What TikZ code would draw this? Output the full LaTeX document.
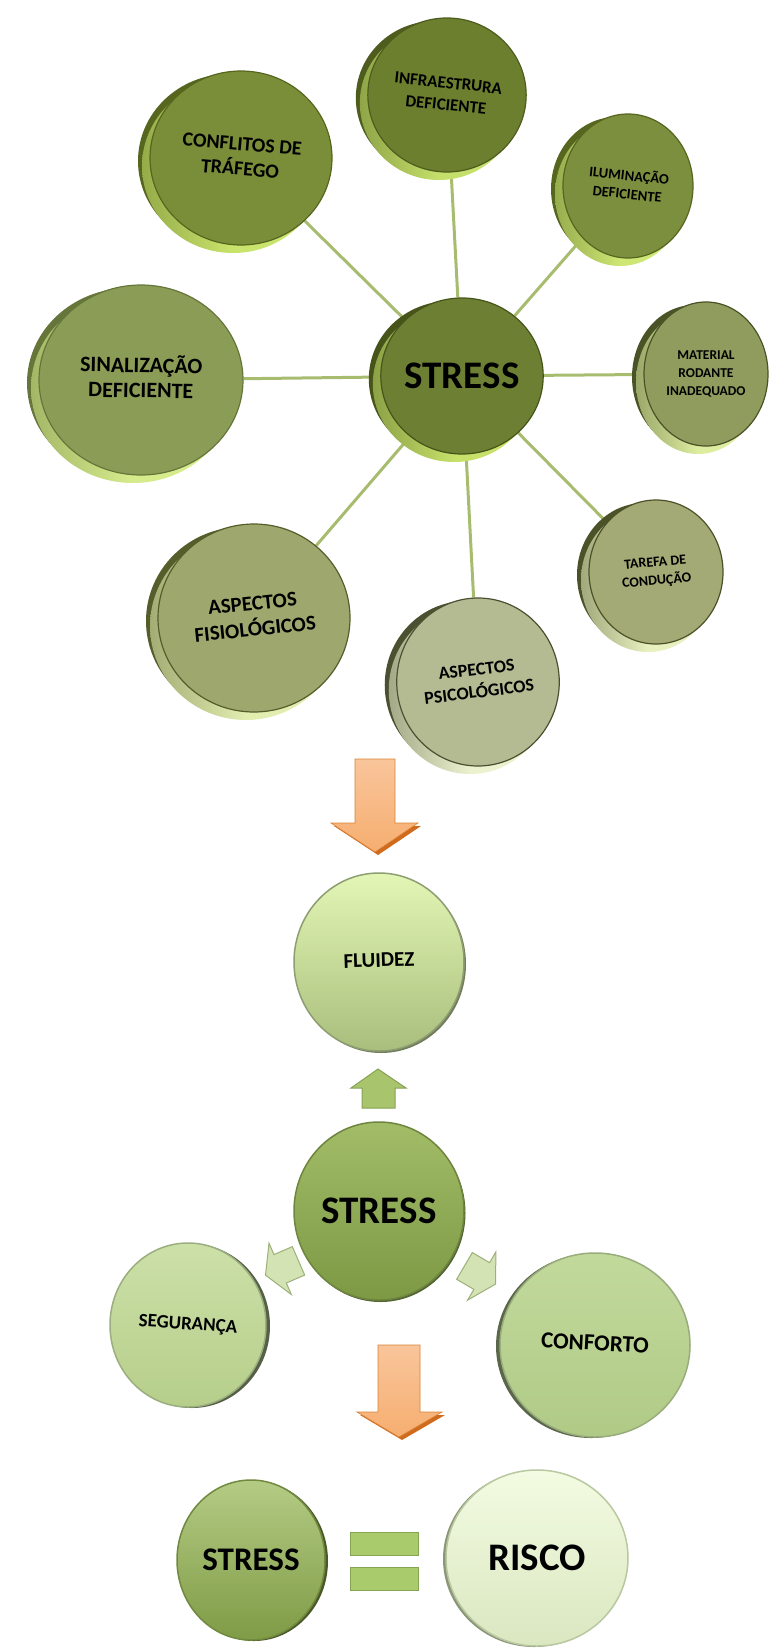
\documentclass[tikz,border=0pt]{standalone}
\usepackage{fontspec}
\setmainfont{Carlito}
\usetikzlibrary{shapes.geometric,backgrounds}

% palette
\definecolor{linkgreen}{HTML}{A8BC70}
\definecolor{orangeA}{HTML}{F9C59B}
\definecolor{orangeB}{HTML}{F0903C}
\definecolor{orangeC}{HTML}{F6AE70}
\definecolor{orangeD}{HTML}{D06A1C}
\definecolor{upgreen}{HTML}{A8C46C}
\definecolor{upedge}{HTML}{86A256}
\definecolor{palegreen}{HTML}{D3E3B3}
\definecolor{paleedge}{HTML}{9DB07A}
\definecolor{barfill}{HTML}{AACB6B}
\definecolor{baredge}{HTML}{86A552}
% disc faces, bright rims, dark edges
\definecolor{infraF}{HTML}{6B7F2F}\definecolor{infraL}{HTML}{C5E06A}\definecolor{infraD}{HTML}{4E5C1E}
\definecolor{confF}{HTML}{7A8E3A}\definecolor{confL}{HTML}{C9E46C}\definecolor{confD}{HTML}{56661F}
\definecolor{ilumF}{HTML}{7C8F3E}\definecolor{ilumL}{HTML}{CDE674}\definecolor{ilumD}{HTML}{56661F}
\definecolor{sinalF}{HTML}{8B9C57}\definecolor{sinalL}{HTML}{D6EC8C}\definecolor{sinalD}{HTML}{66763A}
\definecolor{stressF}{HTML}{6C7F33}\definecolor{stressL}{HTML}{C6E06A}\definecolor{stressD}{HTML}{46541A}
\definecolor{matF}{HTML}{8F9C5E}\definecolor{matL}{HTML}{DDEDA0}\definecolor{matD}{HTML}{4A5326}
\definecolor{tarF}{HTML}{A3AA75}\definecolor{tarL}{HTML}{E8F0C0}\definecolor{tarD}{HTML}{4C5228}
\definecolor{fisF}{HTML}{9EA86E}\definecolor{fisL}{HTML}{E2EDB0}\definecolor{fisD}{HTML}{555D2B}
\definecolor{psiF}{HTML}{B4BA92}\definecolor{psiL}{HTML}{ECF2CF}\definecolor{psiD}{HTML}{4B5030}
% flat ellipses: top, bottom, edge
\definecolor{fluT}{HTML}{E3F6B5}\definecolor{fluB}{HTML}{A9BE7C}\definecolor{fluE}{HTML}{8E9E72}
\definecolor{stbT}{HTML}{A2BC68}\definecolor{stbB}{HTML}{7D9944}\definecolor{stbE}{HTML}{6E8540}
\definecolor{segT}{HTML}{CCE0A8}\definecolor{segB}{HTML}{B6CE8A}\definecolor{segE}{HTML}{9AAE80}
\definecolor{conT}{HTML}{C2D99C}\definecolor{conB}{HTML}{B0CA86}\definecolor{conE}{HTML}{98AC7C}
\definecolor{stcT}{HTML}{B4CB84}\definecolor{stcB}{HTML}{7F9B46}\definecolor{stcE}{HTML}{71893F}
\definecolor{risT}{HTML}{F3FBE2}\definecolor{risB}{HTML}{DAE7C0}\definecolor{risE}{HTML}{B9C8A0}

\tikzset{
  % raised disc: face colour, bright rim colour, dark edge colour
  disc/.style n args={3}{ellipse, inner sep=0pt, fill=#1, draw=#3, line width=1.2pt,
    text=black,
    preaction={fill=#3, transform canvas={shift={(-12pt,-3pt)}}},
    preaction={left color=#3!45!#2, right color=#2, middle color=#2,
      transform canvas={shift={(-8pt,-8pt)}}}},
  % flat shaded ellipse: top colour, bottom colour, edge colour
  flat/.style n args={3}{ellipse, inner sep=0pt, top color=#1, bottom color=#2,
    draw=#3, line width=1.5pt, text=black},
  % darker bevel showing on one side of a flat ellipse
  bevel/.style 2 args={preaction={fill=#1, transform canvas={shift={#2}}}},
  link/.style={draw=linkgreen, line width=3pt},
  bigarrow/.style={top color=orangeA, middle color=orangeB, bottom color=orangeC, draw=orangeB!90!black, line width=0.6pt},
  arrowshade/.style={fill=orangeD},
  uparrow/.style={fill=upgreen, draw=upedge, line width=1pt},
  palearrow/.style={fill=palegreen, draw=paleedge, line width=1pt, line join=miter},
  eqbar/.style={fill=barfill, draw=baredge, line width=1pt},
  fs/.style 2 args={font=\fontsize{#1}{#2}\selectfont\bfseries},
}
\newcommand{\lines}[2]{\rotatebox{#1}{\begin{tabular}{@{}c@{}}#2\end{tabular}}}

\begin{document}
\begin{tikzpicture}[x=1pt,y=-1pt]
\useasboundingbox (0,0) rectangle (770,1648);

% ---------- causes of stress ----------
\node[disc={infraF}{infraL}{infraD}, minimum width=150pt, minimum height=154pt, fs={17}{22}]
  (infra) at (447,95) {\lines{-6}{INFRAESTRURA\\DEFICIENTE}};
\node[disc={confF}{confL}{confD}, minimum width=182pt, minimum height=174pt, fs={20}{25}]
  (conflitos) at (241,158) {\lines{-5}{CONFLITOS DE\\TRÁFEGO}};
\node[disc={ilumF}{ilumL}{ilumD}, minimum width=130pt, minimum height=144pt, fs={14.5}{18.5}]
  (ilum) at (628,186) {\lines{-6}{ILUMINAÇÃO\\DEFICIENTE}};
\node[disc={sinalF}{sinalL}{sinalD}, minimum width=204pt, minimum height=190pt, fs={22}{25}]
  (sinal) at (141,380) {\lines{-1}{SINALIZAÇÃO\\DEFICIENTE}};
\node[disc={stressF}{stressL}{stressD}, minimum width=150pt, minimum height=156pt, fs={39}{44}]
  (stressA) at (462,376) {STRESS};
\node[disc={matF}{matL}{matD}, minimum width=124pt, minimum height=144pt, fs={13.5}{18}]
  (material) at (706,374) {\lines{0}{MATERIAL\\RODANTE\\INADEQUADO}};
\node[disc={tarF}{tarL}{tarD}, minimum width=134pt, minimum height=144pt, fs={14}{18.5}]
  (tarefa) at (656,572) {\lines{5}{TAREFA DE\\CONDUÇÃO}};
\node[disc={fisF}{fisL}{fisD}, minimum width=192pt, minimum height=188pt, fs={21}{26}]
  (fisio) at (254,618) {\lines{6}{ASPECTOS\\FISIOLÓGICOS}};
\node[disc={psiF}{psiL}{psiD}, minimum width=154pt, minimum height=168pt, fs={18}{22.5}]
  (psico) at (478,682) {\lines{7}{ASPECTOS\\PSICOLÓGICOS}};

\begin{pgfonlayer}{background}
  \foreach \n in {infra,conflitos,ilum,sinal,material,tarefa,fisio,psico}
    \draw[link] (stressA) -- (\n);
\end{pgfonlayer}

% ---------- first orange arrow ----------
\fill[arrowshade] (398,826) -- (421,826) -- (378,855) -- (334,826) -- cycle;
\draw[bigarrow] (355,759) -- (395,759) -- (395,823) -- (418,823) -- (375,852)
  -- (331,823) -- (355,823) -- cycle;

% ---------- effects ----------
\node[flat={fluT}{fluB}{fluE}, bevel={fluE!80!black}{(2pt,-2pt)},
  minimum width=170pt, minimum height=178pt, fs={21}{25}]
  (fluidez) at (379,962) {\lines{2}{FLUIDEZ}};
\node[flat={stbT}{stbB}{stbE}, bevel={stbE!75!black}{(1.5pt,-2pt)},
  minimum width=170pt, minimum height=178pt, fs={39}{44}]
  (stressB) at (379,1211) {STRESS};
\node[flat={segT}{segB}{segE}, bevel={segE!55!black}{(4pt,-1pt)},
  minimum width=156pt, minimum height=164pt, fs={19}{23}]
  (seguranca) at (188,1325) {\lines{-4}{SEGURANÇA}};
\node[flat={conT}{conB}{conE}, bevel={conE!60!black}{(-4pt,-1pt)},
  minimum width=190pt, minimum height=184pt, fs={23}{27}]
  (conforto) at (595,1345) {\lines{-3}{CONFORTO}};

% up arrow towards FLUIDEZ
\draw[uparrow] (362,1108) -- (395,1108) -- (395,1088) -- (406,1088) -- (378,1069)
  -- (351,1088) -- (362,1088) -- cycle;

% pale arrows towards SEGURANÇA and CONFORTO
\begin{scope}[shift={(282,1268)}, rotate=203.5]
  \draw[palearrow] (-18,-15.5) -- (2,-15.5) -- (2,-28) -- (18,0) -- (2,28) -- (2,15.5)
    -- (-18,15.5) -- cycle;
\end{scope}
\begin{scope}[shift={(480,1275)}, rotate=-30.4]
  \draw[palearrow] (-18,-15.5) -- (2,-15.5) -- (2,-28) -- (18,0) -- (2,28) -- (2,15.5)
    -- (-18,15.5) -- cycle;
\end{scope}

% ---------- second orange arrow ----------
\fill[arrowshade] (423,1415) -- (445,1415) -- (402,1440) -- (360,1415) -- cycle;
\draw[bigarrow] (378,1345) -- (420,1345) -- (420,1412) -- (442,1412) -- (399,1437)
  -- (357,1412) -- (378,1412) -- cycle;

% ---------- stress = risk ----------
\node[flat={stcT}{stcB}{stcE}, bevel={stcE!65!black}{(3pt,-1pt)},
  minimum width=148pt, minimum height=160pt, fs={33}{38}]
  (stressC) at (251,1560) {STRESS};
\node[flat={risT}{risB}{risE}, bevel={risE!75!black}{(-3pt,-1pt)},
  minimum width=182pt, minimum height=176pt, fs={39}{44}]
  (risco) at (537,1558) {RISCO};
\draw[eqbar] (350,1532) rectangle (418,1555);
\draw[eqbar] (350,1567) rectangle (418,1590);

\end{tikzpicture}
\end{document}
